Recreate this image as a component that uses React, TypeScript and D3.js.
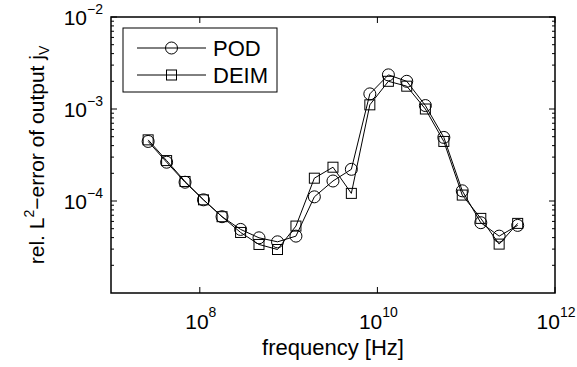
import React, { useEffect, useRef } from "react";
import * as d3 from "d3";

// frequencies [Hz]
const frequencies = [
  2.62e7, 4.23e7, 6.82e7, 1.1e8, 1.78e8, 2.88e8, 4.64e8, 7.5e8, 1.21e9, 1.95e9,
  3.16e9, 5.09e9, 8.22e9, 1.33e10, 2.14e10, 3.47e10, 5.6e10, 9.03e10, 1.46e11,
  2.35e11, 3.8e11,
];

const podError = [
  4.44e-4, 2.64e-4, 1.6e-4, 1.03e-4, 6.75e-5, 4.91e-5, 3.98e-5, 3.6e-5, 4.15e-5,
  1.11e-4, 1.65e-4, 2.21e-4, 1.46e-3, 2.35e-3, 2.0e-3, 1.09e-3, 4.91e-4, 1.29e-4,
  5.81e-5, 4.15e-5, 5.43e-5,
];

const deimError = [
  4.62e-4, 2.75e-4, 1.63e-4, 1.03e-4, 6.75e-5, 4.55e-5, 3.37e-5, 2.97e-5, 5.34e-5,
  1.77e-4, 2.33e-4, 1.21e-4, 1.11e-3, 2.0e-3, 1.77e-3, 1.0e-3, 4.44e-4, 1.16e-4,
  6.47e-5, 3.4e-5, 5.71e-5,
];

const xTickExps = [8, 10, 12];
const yTickExps = [-4, -3, -2];
const seriesNames = ["POD", "DEIM"];

const font = "'Liberation Sans', Arial, sans-serif";

const App = () => {
  const svgRef = useRef<SVGSVGElement>(null);

  useEffect(() => {
    const w = 577;
    const h = 367;
    const m = { left: 111, right: 22, top: 17, bottom: 74 };
    const svg = d3.select(svgRef.current).attr("width", w).attr("height", h);
    svg.selectAll("*").remove();

    const x = d3.scaleLog().domain([1e7, 1e12]).range([m.left, w - m.right]);
    const y = d3.scaleLog().domain([1e-5, 1e-2]).range([h - m.bottom, m.top]);
    const [x0, x1] = x.range();
    const [y0, y1] = y.range();

    const g = svg.append("g");

    // minor ticks on y (log 2..9)
    const minor: number[] = [];
    for (let e = -5; e < -2; e++) for (let k = 2; k <= 9; k++) minor.push(k * Math.pow(10, e));
    minor.forEach((v) => {
      [[x0, x0 + 3], [x1, x1 - 3]].forEach(([a, b]) =>
        g.append("line").attr("x1", a).attr("x2", b).attr("y1", y(v)).attr("y2", y(v))
          .attr("stroke", "#000").attr("stroke-width", 1)
      );
    });
    // major y ticks
    yTickExps.forEach((e) => {
      const v = Math.pow(10, e);
      [[x0, x0 + 6], [x1, x1 - 6]].forEach(([a, b]) =>
        g.append("line").attr("x1", a).attr("x2", b).attr("y1", y(v)).attr("y2", y(v))
          .attr("stroke", "#000").attr("stroke-width", 1)
      );
      const t = g.append("text").attr("x", x0 - 8).attr("y", y(v) + 8)
        .attr("text-anchor", "end").style("font-family", font).style("font-size", "21px");
      t.append("tspan").text("10");
      t.append("tspan").attr("dy", -11).style("font-size", "14px").text("−" + Math.abs(e));
    });
    // major x ticks
    xTickExps.forEach((e) => {
      const v = Math.pow(10, e);
      [[y0, y0 - 6], [y1, y1 + 6]].forEach(([a, b]) =>
        g.append("line").attr("x1", x(v)).attr("x2", x(v)).attr("y1", a).attr("y2", b)
          .attr("stroke", "#000").attr("stroke-width", 1)
      );
      const t = g.append("text").attr("x", x(v) + 1).attr("y", y0 + 36)
        .attr("text-anchor", "middle").style("font-family", font).style("font-size", "21px");
      t.append("tspan").text("10");
      t.append("tspan").attr("dy", -12).style("font-size", "14px").text(String(e));
    });

    // box
    g.append("rect").attr("x", x0).attr("y", y1).attr("width", x1 - x0).attr("height", y0 - y1)
      .attr("fill", "none").attr("stroke", "#000").attr("stroke-width", 1.5);

    // axis labels
    g.append("text").attr("x", (x0 + x1) / 2).attr("y", 355).attr("text-anchor", "middle")
      .style("font-family", font).style("font-size", "22px").text("frequency [Hz]");

    const yl = g.append("text").attr("transform", `translate(44,${(y0 + y1) / 2}) rotate(-90)`)
      .attr("text-anchor", "middle").style("font-family", font).style("font-size", "21px");
    yl.append("tspan").text("rel. L");
    yl.append("tspan").attr("dy", -10).style("font-size", "14px").text("2");
    yl.append("tspan").attr("dy", 10).text("−error of output j");
    yl.append("tspan").attr("dy", 5).style("font-size", "14px").text("V");

    const line = d3.line<number>().x((_, i) => x(frequencies[i])).y((d) => y(d));

    const drawCircle = (sel: any, cx: number, cy: number) =>
      sel.append("circle").attr("cx", cx).attr("cy", cy).attr("r", 6)
        .attr("fill", "none").attr("stroke", "#000").attr("stroke-width", 1);
    const drawSquare = (sel: any, cx: number, cy: number) =>
      sel.append("rect").attr("x", cx - 5).attr("y", cy - 5).attr("width", 10).attr("height", 10)
        .attr("fill", "none").attr("stroke", "#000").attr("stroke-width", 1);

    const series = [
      { name: seriesNames[0], values: podError, marker: drawCircle },
      { name: seriesNames[1], values: deimError, marker: drawSquare },
    ];

    series.forEach((s) => {
      g.append("path").attr("d", line(s.values)).attr("fill", "none")
        .attr("stroke", "#000").attr("stroke-width", 1);
      s.values.forEach((v, i) => s.marker(g, x(frequencies[i]), y(v)));
    });

    // legend
    const lg = g.append("g");
    lg.append("rect").attr("x", 123).attr("y", 28).attr("width", 154).attr("height", 64)
      .attr("fill", "#fff").attr("stroke", "#000").attr("stroke-width", 1);
    series.forEach((s, i) => {
      const ly = 48 + i * 27;
      lg.append("line").attr("x1", 137).attr("x2", 206).attr("y1", ly).attr("y2", ly)
        .attr("stroke", "#000").attr("stroke-width", 1);
      s.marker(lg, 171.5, ly);
      lg.append("text").attr("x", 213).attr("y", ly + 8).style("font-family", font)
        .style("font-size", "22px").text(s.name);
    });
  }, []);

  return (
    <svg ref={svgRef} style={{ position: "absolute", left: 0, top: 0, background: "#fff" }}></svg>
  );
};

export default App;
